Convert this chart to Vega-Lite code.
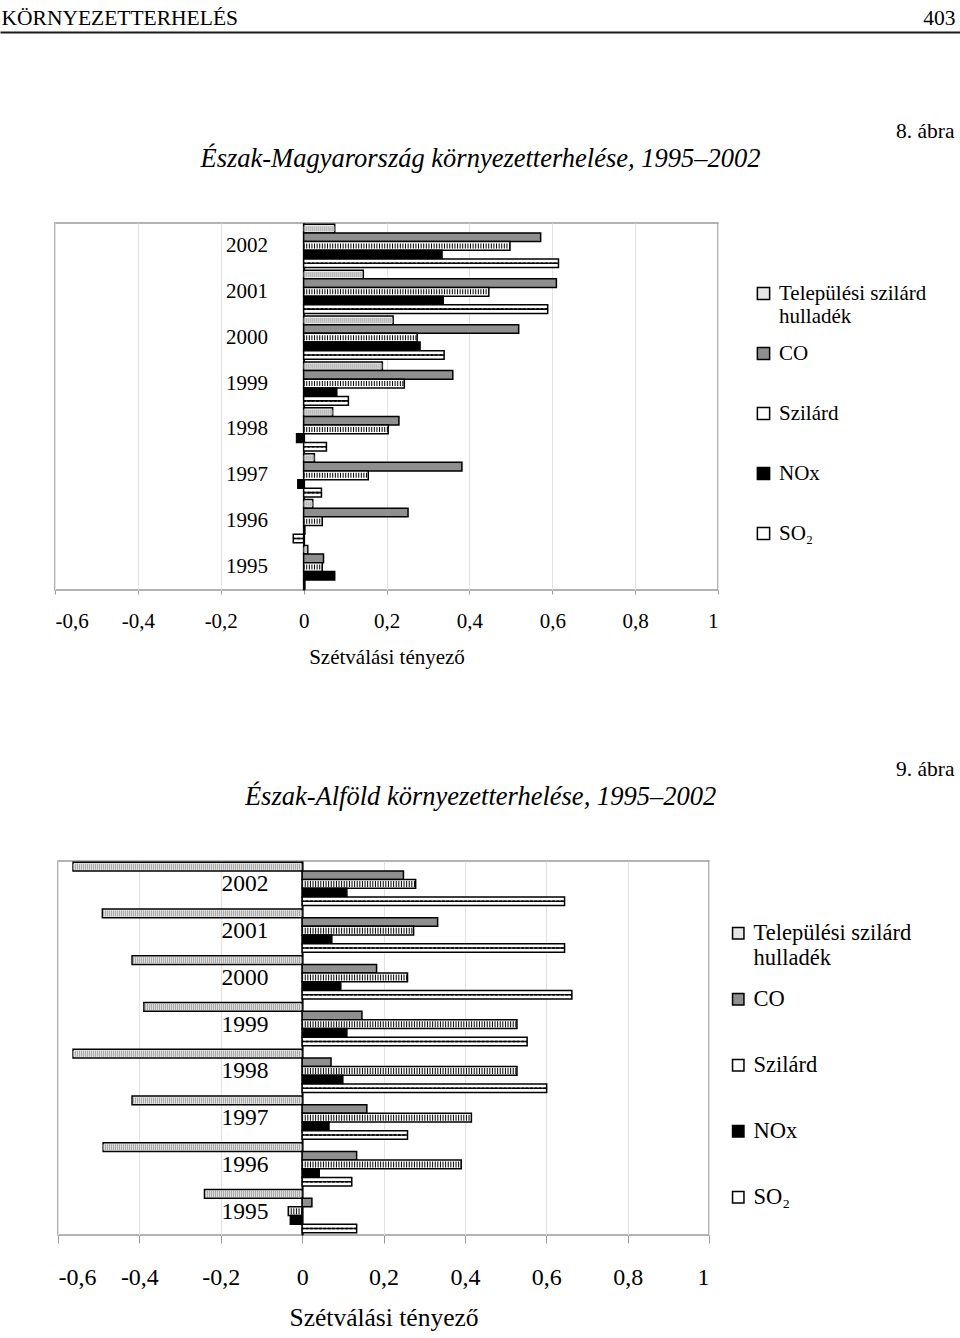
{
  "$schema": "https://vega.github.io/schema/vega-lite/v6.json",
  "background": "white",
  "padding": 0,
  "spacing": 0,
  "bounds": "flush",
  "resolve": {"scale": {"fill": "independent"}, "legend": {"fill": "independent"}},
  "config": {
    "font": "Liberation Serif",
    "view": {"stroke": null},
    "axis": {"labelColor": "black", "titleColor": "black", "titleFontWeight": "normal", "labelFont": "Liberation Serif", "titleFont": "Liberation Serif"},
    "legend": {"labelFont": "Liberation Serif", "labelColor": "black"}
  },
  "datasets": {
    "nm": [
      {"year": "2002", "series": "Települési szilárd hulladék", "value": 0.075},
      {"year": "2002", "series": "CO", "value": 0.572},
      {"year": "2002", "series": "Szilárd", "value": 0.498},
      {"year": "2002", "series": "NOx", "value": 0.334},
      {"year": "2002", "series": "SO₂", "value": 0.615},
      {"year": "2001", "series": "Települési szilárd hulladék", "value": 0.144},
      {"year": "2001", "series": "CO", "value": 0.61},
      {"year": "2001", "series": "Szilárd", "value": 0.447},
      {"year": "2001", "series": "NOx", "value": 0.337},
      {"year": "2001", "series": "SO₂", "value": 0.589},
      {"year": "2000", "series": "Települési szilárd hulladék", "value": 0.216},
      {"year": "2000", "series": "CO", "value": 0.519},
      {"year": "2000", "series": "Szilárd", "value": 0.274},
      {"year": "2000", "series": "NOx", "value": 0.281},
      {"year": "2000", "series": "SO₂", "value": 0.339},
      {"year": "1999", "series": "Települési szilárd hulladék", "value": 0.19},
      {"year": "1999", "series": "CO", "value": 0.36},
      {"year": "1999", "series": "Szilárd", "value": 0.243},
      {"year": "1999", "series": "NOx", "value": 0.08},
      {"year": "1999", "series": "SO₂", "value": 0.108},
      {"year": "1998", "series": "Települési szilárd hulladék", "value": 0.07},
      {"year": "1998", "series": "CO", "value": 0.23},
      {"year": "1998", "series": "Szilárd", "value": 0.204},
      {"year": "1998", "series": "NOx", "value": -0.017},
      {"year": "1998", "series": "SO₂", "value": 0.055},
      {"year": "1997", "series": "Települési szilárd hulladék", "value": 0.026},
      {"year": "1997", "series": "CO", "value": 0.382},
      {"year": "1997", "series": "Szilárd", "value": 0.156},
      {"year": "1997", "series": "NOx", "value": -0.014},
      {"year": "1997", "series": "SO₂", "value": 0.043},
      {"year": "1996", "series": "Települési szilárd hulladék", "value": 0.022},
      {"year": "1996", "series": "CO", "value": 0.252},
      {"year": "1996", "series": "Szilárd", "value": 0.045},
      {"year": "1996", "series": "NOx", "value": 0.003},
      {"year": "1996", "series": "SO₂", "value": -0.025},
      {"year": "1995", "series": "Települési szilárd hulladék", "value": 0.01},
      {"year": "1995", "series": "CO", "value": 0.048},
      {"year": "1995", "series": "Szilárd", "value": 0.045},
      {"year": "1995", "series": "NOx", "value": 0.075},
      {"year": "1995", "series": "SO₂", "value": 0.003}
    ],
    "na": [
      {"year": "2002", "series": "Települési szilárd hulladék", "value": -0.563},
      {"year": "2002", "series": "CO", "value": 0.249},
      {"year": "2002", "series": "Szilárd", "value": 0.279},
      {"year": "2002", "series": "NOx", "value": 0.11},
      {"year": "2002", "series": "SO₂", "value": 0.645},
      {"year": "2001", "series": "Települési szilárd hulladék", "value": -0.491},
      {"year": "2001", "series": "CO", "value": 0.333},
      {"year": "2001", "series": "Szilárd", "value": 0.274},
      {"year": "2001", "series": "NOx", "value": 0.073},
      {"year": "2001", "series": "SO₂", "value": 0.645},
      {"year": "2000", "series": "Települési szilárd hulladék", "value": -0.418},
      {"year": "2000", "series": "CO", "value": 0.183},
      {"year": "2000", "series": "Szilárd", "value": 0.259},
      {"year": "2000", "series": "NOx", "value": 0.095},
      {"year": "2000", "series": "SO₂", "value": 0.663},
      {"year": "1999", "series": "Települési szilárd hulladék", "value": -0.389},
      {"year": "1999", "series": "CO", "value": 0.147},
      {"year": "1999", "series": "Szilárd", "value": 0.528},
      {"year": "1999", "series": "NOx", "value": 0.11},
      {"year": "1999", "series": "SO₂", "value": 0.553},
      {"year": "1998", "series": "Települési szilárd hulladék", "value": -0.563},
      {"year": "1998", "series": "CO", "value": 0.071},
      {"year": "1998", "series": "Szilárd", "value": 0.528},
      {"year": "1998", "series": "NOx", "value": 0.1},
      {"year": "1998", "series": "SO₂", "value": 0.601},
      {"year": "1997", "series": "Települési szilárd hulladék", "value": -0.418},
      {"year": "1997", "series": "CO", "value": 0.159},
      {"year": "1997", "series": "Szilárd", "value": 0.416},
      {"year": "1997", "series": "NOx", "value": 0.066},
      {"year": "1997", "series": "SO₂", "value": 0.259},
      {"year": "1996", "series": "Települési szilárd hulladék", "value": -0.489},
      {"year": "1996", "series": "CO", "value": 0.134},
      {"year": "1996", "series": "Szilárd", "value": 0.391},
      {"year": "1996", "series": "NOx", "value": 0.042},
      {"year": "1996", "series": "SO₂", "value": 0.122},
      {"year": "1995", "series": "Települési szilárd hulladék", "value": -0.24},
      {"year": "1995", "series": "CO", "value": 0.024},
      {"year": "1995", "series": "Szilárd", "value": -0.034},
      {"year": "1995", "series": "NOx", "value": -0.029},
      {"year": "1995", "series": "SO₂", "value": 0.134}
    ]
  },
  "vconcat": [
    {
      "width": 960, "height": 32,
      "data": {"values": [{"a": 0.5, "b": 0.5}]},
      "mark": {"type": "point", "opacity": 0, "size": 0},
      "encoding": {
        "x": {"field": "a", "type": "quantitative", "scale": {"domain": [0, 1]},
          "axis": {"domain": true, "domainColor": "#1a1a1a", "domainWidth": 2, "ticks": false, "labels": false, "grid": false,
            "title": "403", "titleX": 955, "titleY": -8, "titleAlign": "right", "titleBaseline": "alphabetic", "titleFontSize": 21.5}},
        "y": {"field": "b", "type": "quantitative", "scale": {"domain": [0, 1]},
          "axis": {"domain": false, "ticks": false, "labels": false, "grid": false,
            "title": "KÖRNYEZETTERHELÉS", "titleAngle": 0, "titleX": 1, "titleY": 24, "titleAlign": "left", "titleBaseline": "alphabetic", "titleFontSize": 21.5}}
      }
    },
    {
      "width": 960, "height": 191,
      "data": {"values": [{"a": 0.5, "b": 0.5}]},
      "mark": {"type": "point", "opacity": 0, "size": 0},
      "encoding": {
        "x": {"field": "a", "type": "quantitative", "scale": {"domain": [0, 1]},
          "axis": {"domain": false, "ticks": false, "labels": false, "grid": false,
            "title": "Észak-Magyarország környezetterhelése, 1995–2002", "titleX": 480, "titleY": -57, "titleAlign": "center", "titleBaseline": "alphabetic", "titleFontSize": 26.5, "titleFontStyle": "italic"}},
        "y": {"field": "b", "type": "quantitative", "scale": {"domain": [0, 1]},
          "axis": {"domain": false, "ticks": false, "labels": false, "grid": false,
            "title": "8. ábra", "titleAngle": 0, "titleX": 954, "titleY": 105, "titleAlign": "right", "titleBaseline": "alphabetic", "titleFontSize": 21.5}}
      }
    },
    {
      "spacing": 0,
      "bounds": "flush",
      "resolve": {"scale": {"fill": "independent"}, "legend": {"fill": "independent"}},
      "hconcat": [
        {"width": 55, "height": 367, "data": {"values": [{}]}, "mark": {"type": "point", "opacity": 0, "size": 0}},
        {
          "width": 663, "height": 367,
          "view": {"stroke": "#9a9a9a", "strokeWidth": 1.5},
          "data": {"name": "nm"},
          "encoding": {
            "y": {"field": "year", "type": "nominal", "sort": "descending", "scale": {"paddingInner": 0, "paddingOuter": 0},
              "axis": {"title": null, "offset": -248.6, "domainColor": "black", "domainWidth": 2, "ticks": false, "grid": false, "labelFontSize": 21, "labelPadding": 36}},
            "yOffset": {"field": "series", "type": "nominal", "scale": {"domain": ["Települési szilárd hulladék", "CO", "Szilárd", "NOx", "SO₂"], "paddingInner": 0, "paddingOuter": 0.15}},
            "x": {"field": "value", "type": "quantitative", "scale": {"domain": [-0.6, 1], "nice": false},
              "axis": {"values": [-0.6, -0.4, -0.2, 0, 0.2, 0.4, 0.6, 0.8, 1],
                "labelExpr": "(datum.value < 0 ? '-' : '') + replace(format(abs(datum.value), '.1~f'), '.', ',')",
                "domain": false, "grid": true, "gridColor": "#e3e3e3", "tickColor": "#9a9a9a", "tickSize": 4,
                "labelFontSize": 21, "labelPadding": 16, "title": "Szétválási tényező", "titleFontSize": 21, "titlePadding": 15}}
          },
          "layer": [
            {"mark": {"type": "bar", "stroke": "black", "strokeWidth": 1.5},
              "encoding": {
                "x2": {"datum": 0},
                "fill": {"field": "series", "type": "nominal",
                  "scale": {"domain": ["Települési szilárd hulladék", "CO", "Szilárd", "NOx", "SO₂"], "range": ["#e6e6e6", "#8f8f8f", "#ffffff", "#000000", "#ffffff"]},
                  "legend": {"orient": "none", "legendX": 698, "legendY": 60, "title": null, "symbolType": "square", "symbolSize": 150,
                    "symbolStrokeColor": "black", "symbolStrokeWidth": 1.5, "labelFontSize": 21, "labelLimit": 400, "rowPadding": 15, "labelOffset": 5,
                    "labelExpr": "datum.label == 'Települési szilárd hulladék' ? ['Települési szilárd', 'hulladék'] : [datum.label, ' ']"}}
              }},
            {"transform": [{"filter": "datum.series == 'Települési szilárd hulladék'"}],
              "mark": {"type": "rule", "strokeWidth": 5, "strokeDash": [1, 1], "color": "#a0a0a0"},
              "encoding": {"x": {"datum": 0, "type": "quantitative"}, "x2": {"field": "value"}}},
            {"transform": [{"filter": "datum.series == 'Szilárd'"}],
              "mark": {"type": "rule", "strokeWidth": 5, "strokeDash": [1, 1.6], "color": "black"},
              "encoding": {"x": {"datum": 0, "type": "quantitative"}, "x2": {"field": "value"}}},
            {"transform": [{"filter": "datum.series == 'SO₂'"}],
              "mark": {"type": "rule", "strokeWidth": 1.6, "strokeDash": [1.8, 2.6], "strokeDashOffset": 0, "color": "black"},
              "encoding": {"yOffset": {"field": "series", "type": "nominal", "bandPosition": 0.221}, "x": {"datum": 0, "type": "quantitative"}, "x2": {"field": "value"}}},
            {"transform": [{"filter": "datum.series == 'SO₂'"}],
              "mark": {"type": "rule", "strokeWidth": 1.6, "strokeDash": [1.8, 2.6], "strokeDashOffset": 1.6, "color": "black"},
              "encoding": {"yOffset": {"field": "series", "type": "nominal", "bandPosition": 0.407}, "x": {"datum": 0, "type": "quantitative"}, "x2": {"field": "value"}}},
            {"transform": [{"filter": "datum.series == 'SO₂'"}],
              "mark": {"type": "rule", "strokeWidth": 1.6, "strokeDash": [1.8, 2.6], "strokeDashOffset": 3.2, "color": "black"},
              "encoding": {"yOffset": {"field": "series", "type": "nominal", "bandPosition": 0.593}, "x": {"datum": 0, "type": "quantitative"}, "x2": {"field": "value"}}},
            {"transform": [{"filter": "datum.series == 'SO₂'"}],
              "mark": {"type": "rule", "strokeWidth": 1.6, "strokeDash": [1.8, 2.6], "strokeDashOffset": 4.8, "color": "black"},
              "encoding": {"yOffset": {"field": "series", "type": "nominal", "bandPosition": 0.779}, "x": {"datum": 0, "type": "quantitative"}, "x2": {"field": "value"}}}
          ]
        }
      ]
    },
    {
      "width": 960, "height": 638,
      "data": {"values": [{"a": 0.5, "b": 0.5}]},
      "mark": {"type": "point", "opacity": 0, "size": 0},
      "encoding": {
        "x": {"field": "a", "type": "quantitative", "scale": {"domain": [0, 1]},
          "axis": {"domain": false, "ticks": false, "labels": false, "grid": false,
            "title": "Észak-Alföld környezetterhelése, 1995–2002", "titleX": 480, "titleY": -57, "titleAlign": "center", "titleBaseline": "alphabetic", "titleFontSize": 26.5, "titleFontStyle": "italic"}},
        "y": {"field": "b", "type": "quantitative", "scale": {"domain": [0, 1]},
          "axis": {"domain": false, "ticks": false, "labels": false, "grid": false,
            "title": "9. ábra", "titleAngle": 0, "titleX": 954, "titleY": 552, "titleAlign": "right", "titleBaseline": "alphabetic", "titleFontSize": 21.5}}
      }
    },
    {
      "spacing": 0,
      "bounds": "flush",
      "resolve": {"scale": {"fill": "independent"}, "legend": {"fill": "independent"}},
      "hconcat": [
        {"width": 58, "height": 374, "data": {"values": [{}]}, "mark": {"type": "point", "opacity": 0, "size": 0}},
        {
          "width": 651, "height": 374,
          "view": {"stroke": "#9a9a9a", "strokeWidth": 1.5},
          "data": {"name": "na"},
          "encoding": {
            "y": {"field": "year", "type": "nominal", "sort": "descending", "scale": {"paddingInner": 0, "paddingOuter": 0},
              "axis": {"title": null, "offset": -244.1, "domainColor": "black", "domainWidth": 2, "ticks": false, "grid": false, "labelFontSize": 23.5, "labelPadding": 34}},
            "yOffset": {"field": "series", "type": "nominal", "scale": {"domain": ["Települési szilárd hulladék", "CO", "Szilárd", "NOx", "SO₂"], "paddingInner": 0, "paddingOuter": 0.1}},
            "x": {"field": "value", "type": "quantitative", "scale": {"domain": [-0.6, 1], "nice": false},
              "axis": {"values": [-0.6, -0.4, -0.2, 0, 0.2, 0.4, 0.6, 0.8, 1],
                "labelExpr": "(datum.value < 0 ? '-' : '') + replace(format(abs(datum.value), '.1~f'), '.', ',')",
                "domain": false, "grid": true, "gridColor": "#e3e3e3", "tickColor": "#9a9a9a", "tickSize": 8,
                "labelFontSize": 24, "labelPadding": 22, "title": "Szétválási tényező", "titleFontSize": 25.5, "titlePadding": 16}}
          },
          "layer": [
            {"mark": {"type": "bar", "stroke": "black", "strokeWidth": 1.5},
              "encoding": {
                "x2": {"datum": 0},
                "fill": {"field": "series", "type": "nominal",
                  "scale": {"domain": ["Települési szilárd hulladék", "CO", "Szilárd", "NOx", "SO₂"], "range": ["#e6e6e6", "#8f8f8f", "#ffffff", "#000000", "#ffffff"]},
                  "legend": {"orient": "none", "legendX": 669, "legendY": 61, "title": null, "symbolType": "square", "symbolSize": 130,
                    "symbolStrokeColor": "black", "symbolStrokeWidth": 1.5, "labelFontSize": 22.5, "labelLimit": 400, "rowPadding": 18, "labelOffset": 4,
                    "labelExpr": "datum.label == 'Települési szilárd hulladék' ? ['Települési szilárd', 'hulladék'] : [datum.label, ' ']"}}
              }},
            {"transform": [{"filter": "datum.series == 'Települési szilárd hulladék'"}],
              "mark": {"type": "rule", "strokeWidth": 6, "strokeDash": [1, 1], "color": "#a0a0a0"},
              "encoding": {"x": {"datum": 0, "type": "quantitative"}, "x2": {"field": "value"}}},
            {"transform": [{"filter": "datum.series == 'Szilárd'"}],
              "mark": {"type": "rule", "strokeWidth": 6, "strokeDash": [1, 1.6], "color": "black"},
              "encoding": {"x": {"datum": 0, "type": "quantitative"}, "x2": {"field": "value"}}},
            {"transform": [{"filter": "datum.series == 'SO₂'"}],
              "mark": {"type": "rule", "strokeWidth": 1.7, "strokeDash": [1.8, 2.6], "strokeDashOffset": 0, "color": "black"},
              "encoding": {"yOffset": {"field": "series", "type": "nominal", "bandPosition": 0.222}, "x": {"datum": 0, "type": "quantitative"}, "x2": {"field": "value"}}},
            {"transform": [{"filter": "datum.series == 'SO₂'"}],
              "mark": {"type": "rule", "strokeWidth": 1.7, "strokeDash": [1.8, 2.6], "strokeDashOffset": 1.7, "color": "black"},
              "encoding": {"yOffset": {"field": "series", "type": "nominal", "bandPosition": 0.408}, "x": {"datum": 0, "type": "quantitative"}, "x2": {"field": "value"}}},
            {"transform": [{"filter": "datum.series == 'SO₂'"}],
              "mark": {"type": "rule", "strokeWidth": 1.7, "strokeDash": [1.8, 2.6], "strokeDashOffset": 3.4, "color": "black"},
              "encoding": {"yOffset": {"field": "series", "type": "nominal", "bandPosition": 0.592}, "x": {"datum": 0, "type": "quantitative"}, "x2": {"field": "value"}}},
            {"transform": [{"filter": "datum.series == 'SO₂'"}],
              "mark": {"type": "rule", "strokeWidth": 1.7, "strokeDash": [1.8, 2.6], "strokeDashOffset": 5.1, "color": "black"},
              "encoding": {"yOffset": {"field": "series", "type": "nominal", "bandPosition": 0.778}, "x": {"datum": 0, "type": "quantitative"}, "x2": {"field": "value"}}}
          ]
        }
      ]
    }
  ]
}
